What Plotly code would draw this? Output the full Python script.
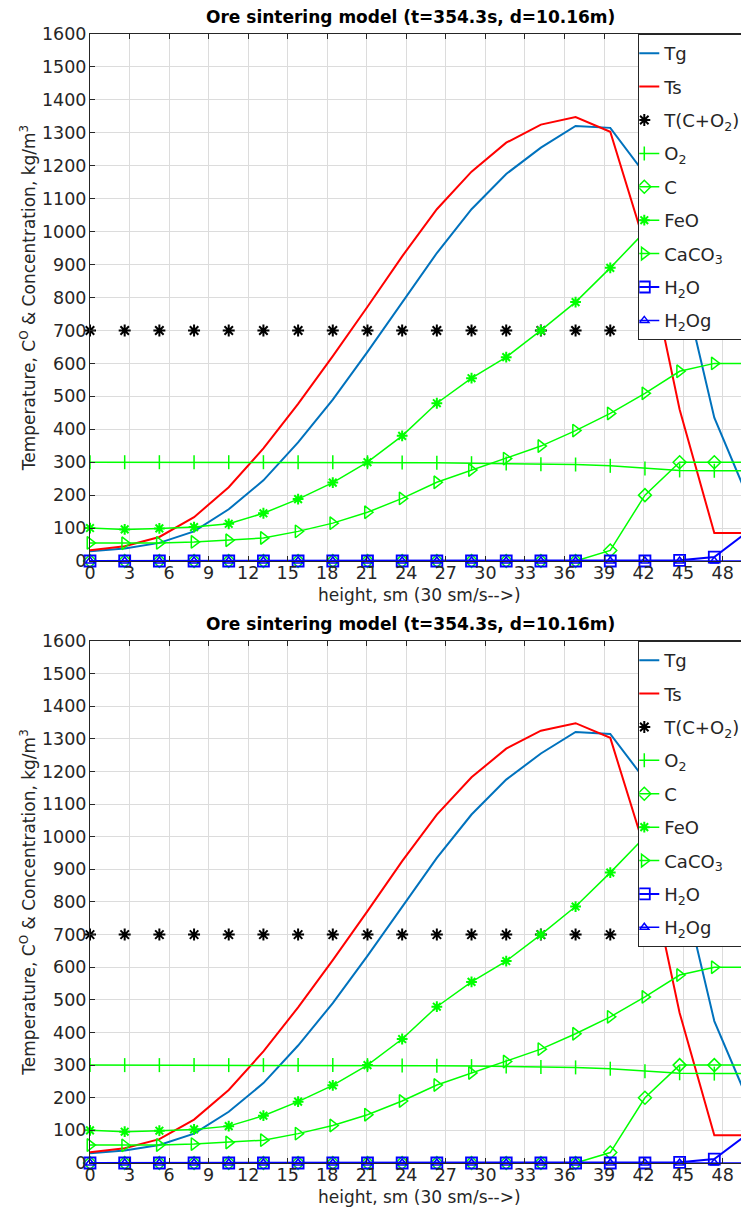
import plotly.graph_objects as go

# ---- data ----
height = [0, 2.632, 5.263, 7.895, 10.526, 13.158, 15.789, 18.421, 21.053, 23.684,
          26.316, 28.947, 31.579, 34.211, 36.842, 39.474, 42.105, 44.737, 47.368, 50.0]
Tg = [30, 38, 55, 90, 157, 245, 360, 490, 635, 785, 935, 1068, 1175, 1255, 1321, 1315, 1175, 885, 435, 185]
Ts = [33, 45, 73, 133, 224, 342, 477, 622, 772, 925, 1068, 1182, 1270, 1325, 1348, 1303, 960, 460, 85, 85]
T_CO2 = [700] * 20
O2 = [300, 300, 300, 300, 300, 300, 300, 300, 300, 299, 298, 297, 296, 294, 293, 289, 281, 275, 274, 274]
C = [0, 0, 0, 0, 0, 0, 0, 0, 0, 0, 0, 0, 0, 0, 0, 32, 200, 300, 300, 300]
FeO = [100, 96, 99, 103, 113, 145, 188, 238, 300, 380, 479, 555, 619, 700, 786, 890, 1000, 1100, 1160, 1205]
CaCO3 = [55, 54, 55, 58, 63, 70, 90, 115, 148, 190, 239, 276, 311, 349, 396, 448, 509, 576, 600, 600]
H2O = [0, 0, 0, 0, 0, 0, 0, 0, 0, 0, 0, 0, 0, 0, 0, 0, 0, 2, 12, 92]
H2Og = [0] * 20

x_ticks = list(range(0, 49, 3))
y_ticks = list(range(0, 1601, 100))
title_text = "<b>Ore sintering model (t=354.3s, d=10.16m)</b>"
x_title = "height, sm (30 sm/s--&gt;)"
y_title = "Temperature, C<sup>O</sup> &amp; Concentration, kg/m<sup>3</sup>"

GREEN = "#00ff00"
BLUE = "#0000ff"

series = [
    dict(name="Tg", y=Tg, mode="lines", line=dict(color="#0072BD", width=2), marker=None),
    dict(name="Ts", y=Ts, mode="lines", line=dict(color="#ff0000", width=2), marker=None),
    dict(name="T(C+O<sub>2</sub>)", y=T_CO2, mode="markers", line=None,
         marker=dict(symbol="asterisk-open", size=10, color="black", line=dict(color="black", width=2))),
    dict(name="O<sub>2</sub>", y=O2, mode="lines+markers", line=dict(color=GREEN, width=1.5),
         marker=dict(symbol="line-ns-open", size=10, color=GREEN, line=dict(color=GREEN, width=1.5))),
    dict(name="C", y=C, mode="lines+markers", line=dict(color=GREEN, width=1.5),
         marker=dict(symbol="diamond-open", size=10, color=GREEN, line=dict(color=GREEN, width=1.5))),
    dict(name="FeO", y=FeO, mode="lines+markers", line=dict(color=GREEN, width=1.5),
         marker=dict(symbol="asterisk-open", size=9, color=GREEN, line=dict(color=GREEN, width=2))),
    dict(name="CaCO<sub>3</sub>", y=CaCO3, mode="lines+markers", line=dict(color=GREEN, width=1.5),
         marker=dict(symbol="triangle-right-open", size=11, color=GREEN, line=dict(color=GREEN, width=1.5))),
    dict(name="H<sub>2</sub>O", y=H2O, mode="lines+markers", line=dict(color=BLUE, width=2),
         marker=dict(symbol="square-open", size=11, color=BLUE, line=dict(color=BLUE, width=1.8))),
    dict(name="H<sub>2</sub>Og", y=H2Og, mode="lines+markers", line=dict(color=BLUE, width=1.5),
         marker=dict(symbol="triangle-up-open", size=8, color=BLUE, line=dict(color=BLUE, width=1.5))),
]

fig = go.Figure()
for panel, (xa, ya, lg) in enumerate([("x", "y", "legend"), ("x2", "y2", "legend2")]):
    for i, s in enumerate(series):
        kw = dict(x=height, y=s["y"], name=s["name"], mode=s["mode"], xaxis=xa, yaxis=ya,
                  legend=lg, legendgroup=f"{lg}_{i}", cliponaxis=False if s["mode"] != "lines" else True)
        if s["line"] is not None:
            kw["line"] = s["line"]
        if s["marker"] is not None:
            kw["marker"] = s["marker"]
        fig.add_trace(go.Scatter(**kw))

FONT = "DejaVu Sans"
TXT = "#262626"
GRID = "#dcdcdc"

axis_common = dict(showline=True, linecolor=TXT, linewidth=1, mirror="ticks",
                   ticks="inside", ticklen=5, tickcolor=TXT, showgrid=True, gridcolor=GRID,
                   gridwidth=1, zeroline=False, automargin=False,
                   tickfont=dict(family=FONT, size=17.5, color=TXT))

# figure is offset by the page's 8px body margin
top_dom = [0.5332, 1.0]
bot_dom = [0.0, 0.4624]

xcommon = dict(axis_common, range=[0, 50], tickvals=x_ticks, domain=[0, 1], ticklabelstandoff=-4)
ycommon = dict(axis_common, range=[0, 1600], tickvals=y_ticks, ticklabelstandoff=-1,
               title=dict(text=y_title, font=dict(size=17, family=FONT, color=TXT), standoff=1))

legend_common = dict(x=0.832, xanchor="left", yanchor="top", bgcolor="white",
                     bordercolor=TXT, borderwidth=1, font=dict(family=FONT, size=18, color=TXT),
                     traceorder="grouped", tracegroupgap=7, itemwidth=30, indentation=-15)

ann = []
for dom in (top_dom, bot_dom):
    ann.append(dict(text=title_text, xref="paper", yref="paper", x=0.487, y=dom[1], xanchor="center",
                    yanchor="middle", yshift=17, showarrow=False,
                    font=dict(family=FONT, size=17, color="black")))
    ann.append(dict(text=x_title, xref="paper", yref="paper", x=0.5, y=dom[0], xanchor="center",
                    yanchor="middle", yshift=-34, showarrow=False,
                    font=dict(family=FONT, size=17, color=TXT)))

fig.update_layout(
    width=741, height=1201,
    margin=dict(l=82, r=0, t=26, b=46, autoexpand=False),
    plot_bgcolor="white", paper_bgcolor="white",
    font=dict(family=FONT, color=TXT),
    showlegend=True,
    xaxis=dict(xcommon, anchor="y"),
    yaxis=dict(ycommon, anchor="x", domain=top_dom),
    xaxis2=dict(xcommon, anchor="y2"),
    yaxis2=dict(ycommon, anchor="x2", domain=bot_dom),
    legend=dict(legend_common, y=1.0),
    legend2=dict(legend_common, y=bot_dom[1]),
    annotations=ann,
)

fig.write_html("out.html")
